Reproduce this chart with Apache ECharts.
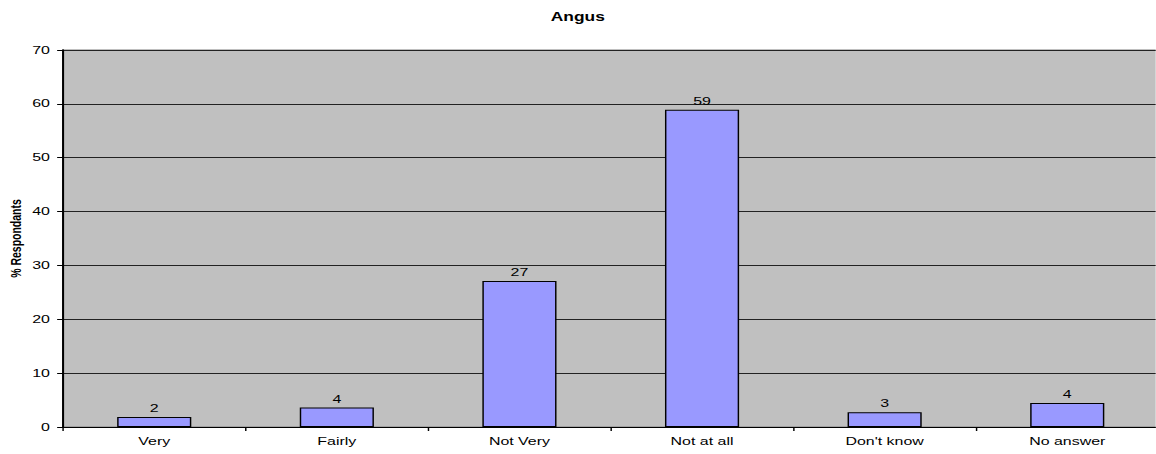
<!DOCTYPE html>
<html><head><meta charset="utf-8">
<script src="https://cdn.jsdelivr.net/npm/echarts@6/dist/echarts.min.js"></script>
<style>
html,body{margin:0;padding:0;background:#fff;overflow:hidden;width:1156px;height:454px}
#c{height:454px;transform-origin:0 0}
</style>
</head><body><div id="c"></div>
<script>
const categories = ["Very", "Fairly", "Not Very", "Not at all", "Don't know", "No answer"];
const values = [1.85, 3.6, 27.1, 58.9, 2.75, 4.45];
const yTicks = [0, 10, 20, 30, 40, 50, 60, 70];

// the reference picture is horizontally stretched; reproduce by scaling the whole chart
const SX = 1.45;
const el = document.getElementById('c');
el.style.width = (1156 / SX) + 'px';
el.style.transform = 'scaleX(' + SX + ')';

const chart = echarts.init(el, null, {renderer: 'svg'});
chart.setOption({
  animation: false,
  backgroundColor: '#ffffff',
  title: {
    text: 'Angus', left: 'center', top: 6,
    textStyle: {fontFamily: 'Liberation Sans, Arial', fontSize: 12, fontWeight: 'bold', color: '#000'}
  },
  grid: {left: 43.4, right: -2, top: 50, bottom: 27, outerBoundsMode: 'none', containLabel: false,
    show: true, backgroundColor: '#c0c0c0', borderColor: '#808080', borderWidth: 1},
  xAxis: {
    type: 'category', data: categories,
    axisLine: {lineStyle: {color: '#000', width: 1}},
    axisTick: {show: true, alignWithLabel: false, length: 4, lineStyle: {color: '#000'}},
    axisLabel: {fontFamily: 'Liberation Sans, Arial', fontSize: 11, color: '#000', margin: 9}
  },
  yAxis: {
    type: 'value', min: yTicks[0], max: yTicks[yTicks.length - 1], interval: 10,
    name: '% Respondants', nameLocation: 'middle', nameGap: 27, nameMoveOverlap: false,
    nameTextStyle: {fontFamily: 'Liberation Sans, Arial', fontSize: 10.5, fontWeight: 'bold', color: '#000'},
    axisLine: {show: true, lineStyle: {color: '#000', width: 1.4}},
    axisTick: {show: true, length: 4, lineStyle: {color: '#000'}},
    axisLabel: {fontFamily: 'Liberation Sans, Arial', fontSize: 11, color: '#000', margin: 9},
    splitLine: {show: true, lineStyle: {color: '#222', width: 1}}
  },
  series: [{
    type: 'bar', data: values, barWidth: '40.6%',
    itemStyle: {color: '#9999ff', borderColor: '#000', borderWidth: 1},
    label: {show: true, position: 'top', distance: 3, formatter: p => Math.round(p.value),
      fontFamily: 'Liberation Sans, Arial', fontSize: 11, color: '#000'}
  }]
});
</script></body></html>
